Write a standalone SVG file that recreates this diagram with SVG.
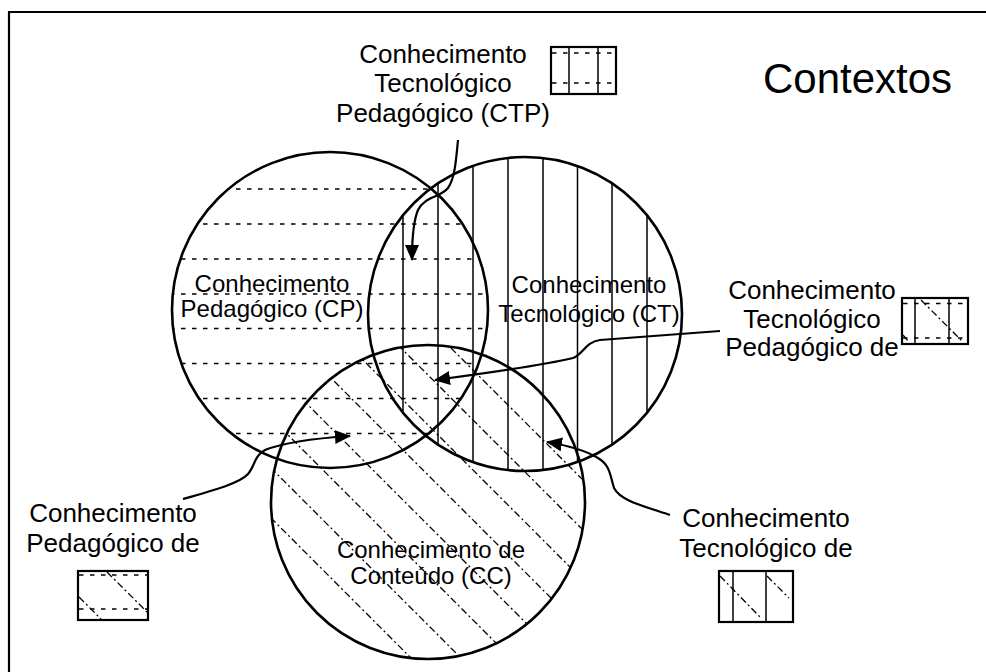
<svg xmlns="http://www.w3.org/2000/svg" width="986" height="672" viewBox="0 0 986 672">
<style>
text{font-family:"Liberation Sans",Arial,sans-serif;fill:#000}
.lbl{font-size:26px;text-anchor:middle}
.clbl{font-size:24px;text-anchor:middle}
.ring{fill:none;stroke:#000;stroke-width:2.6}
.dash{stroke:#000;stroke-width:1.3;stroke-dasharray:4.5,6.5}
.vert{stroke:#000;stroke-width:1.5}
.dd{stroke:#000;stroke-width:1.3;stroke-dasharray:7,3,2,3}
.box{fill:#fff;stroke:#000;stroke-width:2.2}
.conn{fill:none;stroke:#000;stroke-width:2.2}
</style>
<defs>
<clipPath id="cpClip"><circle cx="330" cy="310" r="158"/></clipPath>
<clipPath id="ctClip"><circle cx="525" cy="314" r="157"/></clipPath>
<clipPath id="ccClip"><circle cx="428" cy="502" r="157"/></clipPath>
<marker id="arr" viewBox="0 0 16 14" refX="15" refY="7" markerWidth="16" markerHeight="14" markerUnits="userSpaceOnUse" orient="auto">
<path d="M0,0 L16,7 L0,14 Z" fill="#000"/>
</marker>
</defs>
<rect width="986" height="672" fill="#fff"/>
<path d="M9,672 V12 H986" fill="none" stroke="#000" stroke-width="2.2"/>

<g id="cp">
<g clip-path="url(#cpClip)">
<line class="dash" x1="170" y1="189" x2="490" y2="189"/>
<line class="dash" x1="170" y1="224" x2="490" y2="224"/>
<line class="dash" x1="170" y1="259" x2="490" y2="259"/>
<line class="dash" x1="170" y1="294" x2="490" y2="294"/>
<line class="dash" x1="170" y1="328.5" x2="490" y2="328.5"/>
<line class="dash" x1="170" y1="363.5" x2="490" y2="363.5"/>
<line class="dash" x1="170" y1="398.5" x2="490" y2="398.5"/>
<line class="dash" x1="170" y1="433.5" x2="490" y2="433.5"/>
</g>
<circle class="ring" cx="330" cy="310" r="158"/>
<text class="clbl" x="272" y="292">Conhecimento</text>
<text class="clbl" x="272" y="317">Pedagógico (CP)</text>
</g>

<g id="ct">
<g clip-path="url(#ctClip)">
<line class="vert" x1="403" y1="150" x2="403" y2="480"/>
<line class="vert" x1="438" y1="150" x2="438" y2="480"/>
<line class="vert" x1="473" y1="150" x2="473" y2="480"/>
<line class="vert" x1="508" y1="150" x2="508" y2="480"/>
<line class="vert" x1="543" y1="150" x2="543" y2="480"/>
<line class="vert" x1="577.5" y1="150" x2="577.5" y2="480"/>
<line class="vert" x1="612" y1="150" x2="612" y2="480"/>
<line class="vert" x1="647" y1="150" x2="647" y2="480"/>
</g>
<circle class="ring" cx="525" cy="314" r="157"/>
<text class="clbl" x="589" y="293">Conhecimento</text>
<text class="clbl" x="589" y="322">Tecnológico (CT)</text>
</g>

<g id="cc">
<g clip-path="url(#ccClip)">
<line class="dd" x1="260" y1="507" x2="600" y2="847"/>
<line class="dd" x1="260" y1="457" x2="600" y2="797"/>
<line class="dd" x1="260" y1="407" x2="600" y2="747"/>
<line class="dd" x1="260" y1="357" x2="600" y2="697"/>
<line class="dd" x1="260" y1="307" x2="600" y2="647"/>
<line class="dd" x1="260" y1="257" x2="600" y2="597"/>
<line class="dd" x1="260" y1="207" x2="600" y2="547"/>
<line class="dd" x1="260" y1="157" x2="600" y2="497"/>
</g>
<circle class="ring" cx="428" cy="502" r="157"/>
<text class="clbl" x="431" y="558">Conhecimento de</text>
<text class="clbl" x="431" y="584">Conteúdo (CC)</text>
</g>

<g id="contextos">
<text x="763" y="93" style="font-size:42px">Contextos</text>
</g>

<g id="ctp">
<text class="lbl" x="443" y="63">Conhecimento</text>
<text class="lbl" x="443" y="92">Tecnológico</text>
<text class="lbl" x="443" y="122">Pedagógico (CTP)</text>
<rect class="box" x="551" y="47" width="65" height="47"/>
<line class="dash" x1="552" y1="53" x2="615" y2="53"/>
<line class="dash" x1="552" y1="83" x2="615" y2="83"/>
<line class="vert" x1="569" y1="47" x2="569" y2="94"/>
<line class="vert" x1="598" y1="47" x2="598" y2="94"/>
</g>

<g id="ctpc">
<text class="lbl" x="812" y="299">Conhecimento</text>
<text class="lbl" x="812" y="328">Tecnológico</text>
<text class="lbl" x="812" y="356">Pedagógico de</text>
<rect class="box" x="902" y="298" width="66" height="46"/>
<line class="dash" x1="903" y1="303.5" x2="967" y2="303.5"/>
<line class="dash" x1="903" y1="338" x2="967" y2="338"/>
<line class="vert" x1="915" y1="298" x2="915" y2="344"/>
<line class="vert" x1="949" y1="298" x2="949" y2="344"/>
<line class="dd" x1="921" y1="300" x2="963" y2="342"/>
<line class="dd" x1="903" y1="335" x2="909" y2="342"/>
</g>

<g id="cpc">
<text class="lbl" x="113" y="522">Conhecimento</text>
<text class="lbl" x="113" y="552">Pedagógico de</text>
<rect class="box" x="78" y="571" width="70" height="49"/>
<line class="dash" x1="79" y1="575" x2="147" y2="575"/>
<line class="dash" x1="79" y1="609" x2="147" y2="609"/>
<line class="dd" x1="107" y1="572" x2="147" y2="612"/>
<line class="dd" x1="79" y1="597" x2="101" y2="619"/>
</g>

<g id="ctc">
<text class="lbl" x="766" y="527">Conhecimento</text>
<text class="lbl" x="766" y="557">Tecnológico de</text>
<rect class="box" x="719" y="571" width="74" height="51"/>
<line class="vert" x1="733" y1="571" x2="733" y2="622"/>
<line class="vert" x1="766" y1="571" x2="766" y2="622"/>
<line class="dd" x1="720" y1="576" x2="761" y2="618"/>
<line class="dd" x1="767" y1="576" x2="789" y2="598"/>
</g>

<g id="connectors">
<path class="conn" marker-end="url(#arr)" d="M458,140 C456,160 455,178 448,188 C440,198 425,196 418,210 C413,222 412,240 412,260"/>
<path class="conn" marker-end="url(#arr)" d="M720,331 L600,340 C585,342 583,355 573,358 C540,366 480,374 435,380"/>
<path class="conn" marker-end="url(#arr)" d="M183,499 C215,490 240,483 248,474 C255,466 254,456 265,450 C285,442 320,438 350,436"/>
<path class="conn" marker-end="url(#arr)" d="M670,515 C640,505 620,500 614,488 C610,475 610,465 598,458 C585,450 565,445 547,442"/>
</g>
</svg>
